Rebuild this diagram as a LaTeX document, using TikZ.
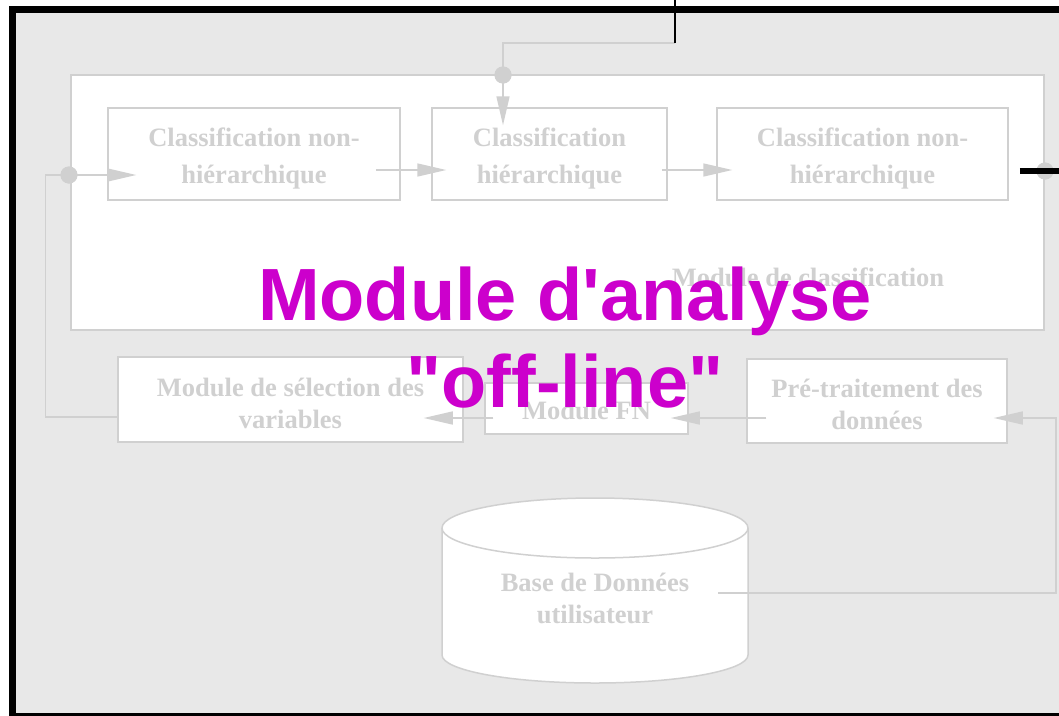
\documentclass[tikz,border=0pt]{standalone}
\usepackage{fontspec}
\setmainfont{Liberation Serif}
\newfontfamily\titlefont{Liberation Sans}
\usepackage{tikz}
\usetikzlibrary{positioning,arrows.meta}
\definecolor{ghostcol}{HTML}{D0D0D0}
\definecolor{bgcol}{HTML}{E8E8E8}
\definecolor{titlecol}{HTML}{CC00CC}

\begin{document}
\begin{tikzpicture}[x=1pt,y=1pt,
   ghost/.style={text=ghostcol,align=center,inner sep=0pt,
              font=\bfseries\fontsize{26.5}{37}\selectfont},
   lowghost/.style={ghost,font=\bfseries\fontsize{26.5}{32}\selectfont},
   box/.style={draw=ghostcol,line width=1.5pt,fill=white},
   wire/.style={draw=ghostcol,line width=1.5pt},
   arr/.style={wire,-{Triangle[length=29pt,width=13pt]}},
   dot/.style={circle,fill=ghostcol,inner sep=0pt,minimum size=17pt},
   title/.style={text=titlecol,align=center,
              font=\titlefont\bfseries\fontsize{74}{87}\selectfont},
]
% ----- page and frame
\useasboundingbox (0,0) rectangle (1059,-715);
\fill[white] (0,0) rectangle (1059,-715);
\draw[line width=7pt,fill=bgcol] (12.5,-9.5) rectangle (1080,-716.5);

% ----- classification module
\node[box,line width=2.5pt,minimum width=973pt,minimum height=255pt] (classmod) at (557.5,-202.5) {};
\node[ghost] (classlbl) at (808,-277) {Module de classification};
\node[box,minimum width=292pt,minimum height=92pt,
      label={[ghost,yshift=-4.5pt]center:{Classification non-\\hiérarchique}}] (cnh1) at (254,-154) {};
\node[box,minimum width=235pt,minimum height=92pt,
      label={[ghost,yshift=-4.5pt]center:{Classification\\hiérarchique}}] (ch) at (549.5,-154) {};
\node[box,minimum width=291pt,minimum height=92pt,
      label={[ghost,yshift=-4.5pt]center:{Classification non-\\hiérarchique}}] (cnh2) at (862.5,-154) {};

% ----- lower row
\node[box,minimum width=345pt,minimum height=85pt,
      label={[lowghost,yshift=-3.5pt]center:{Module de sélection des\\variables}}] (selvar) at (290.5,-399.5) {};
\node[box,minimum width=203pt,minimum height=51pt,
      label={[lowghost,yshift=-1.5pt]center:{Module FN}}] (fn) at (586.5,-408.5) {};
\node[box,minimum width=260pt,minimum height=84pt,
      label={[lowghost,yshift=-3pt]center:{Pré-traitement des\\données}}] (pretrt) at (877,-401) {};

% ----- user database
\filldraw[fill=white,draw=ghostcol,line width=1.5pt] (442,-528) -- (442,-655)
   arc[start angle=180,end angle=360,x radius=153,y radius=28] -- (748,-528)
   arc[start angle=0,end angle=180,x radius=153,y radius=30] -- cycle;
\draw[ghostcol,line width=1.5pt] (442,-528) arc[start angle=180,end angle=360,x radius=153,y radius=30];
\node[lowghost,minimum width=246pt] (basedb) at (595,-598) {Base de Données\\utilisateur};

% ----- wires
\coordinate (feed) at (675,0);
\coordinate (feedend) at (675,-43);
\coordinate (out) at (1059,-171);
\node[dot] (dtop) at (503,-75) {};
\node[dot] (dleft) at (69,-175) {};
\node[dot] (dright) at (1045,-171) {};

\draw[wire] (feedend) -| (dtop.center);
\draw[arr] (dtop.center) -- ([xshift=-46.5pt,yshift=-18pt]ch.north);
\draw[arr] (dleft.center) -- ([xshift=29pt,yshift=-21pt]cnh1.west);
\draw[wire] ([yshift=-17.5pt]selvar.west) -- ++(-72,0) |- (dleft.center);
\draw[arr] ([xshift=-25pt,yshift=-16pt]cnh1.east) -- ([xshift=15pt,yshift=-16pt]ch.west);
\draw[arr] ([xshift=-6pt,yshift=-16pt]ch.east) -- ([xshift=16pt,yshift=-16pt]cnh2.west);
\draw[arr] ([xshift=20pt,yshift=-17pt]pretrt.west) -- ([xshift=-18pt,yshift=-9.5pt]fn.east);
\draw[arr] ([xshift=9pt,yshift=-9.5pt]fn.west) -- ([xshift=-40pt,yshift=-18.5pt]selvar.east);
\draw[arr] ([yshift=5pt]basedb.east) -- ++(338,0) |- ([xshift=-14pt,yshift=-17pt]pretrt.east);
\node[dot] at (dtop) {};
\node[dot] at (dleft) {};
\node[dot] at (dright) {};
\draw[black,line width=2pt] (feed) -- (feedend);
\draw[black,line width=6pt] ([xshift=11pt,yshift=-17pt]cnh2.east) -- (out);

% ----- title
\node[title] (offline) at (565,-337.5) {Module d'analyse\\"off-line"};
\end{tikzpicture}
\end{document}
